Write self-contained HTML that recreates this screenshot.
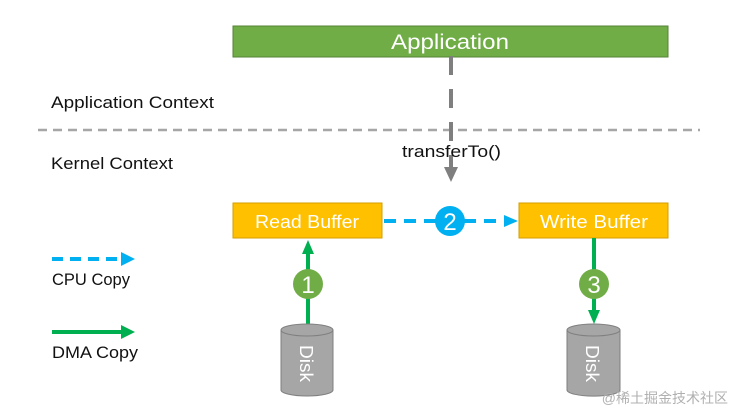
<!DOCTYPE html>
<html><head><meta charset="utf-8"><style>
html,body{margin:0;padding:0;background:#fff;width:732px;height:411px;overflow:hidden}
svg{display:block}
text{font-family:"Liberation Sans","Noto Sans CJK SC",sans-serif}
</style></head><body>
<svg width="732" height="411" viewBox="0 0 732 411" xmlns="http://www.w3.org/2000/svg">
<rect x="233" y="26" width="435" height="31" fill="#70ad47" stroke="#548235" stroke-width="1"/>
<text x="391" y="49" font-size="21" fill="#fff" textLength="118" lengthAdjust="spacingAndGlyphs">Application</text>
<line x1="38" y1="130" x2="700" y2="130" stroke="#a6a6a6" stroke-width="2.5" stroke-dasharray="9,6"/>
<line x1="451" y1="56" x2="451" y2="168" stroke="#7f7f7f" stroke-width="4" stroke-dasharray="19,14"/>
<path d="M444,167 L458,167 L451,182z" fill="#7f7f7f"/>
<text x="51" y="108" font-size="17" fill="#111" textLength="163" lengthAdjust="spacingAndGlyphs">Application Context</text>
<text x="51" y="169" font-size="17" fill="#111" textLength="122" lengthAdjust="spacingAndGlyphs">Kernel Context</text>
<text x="402" y="157" font-size="17" fill="#111" textLength="99" lengthAdjust="spacingAndGlyphs">transferTo()</text>
<rect x="233" y="203" width="149" height="35" fill="#ffc000" stroke="#d69e00"/>
<text x="255" y="228" font-size="18" fill="#fff" textLength="104" lengthAdjust="spacingAndGlyphs">Read Buffer</text>
<rect x="519" y="203" width="149" height="35" fill="#ffc000" stroke="#d69e00"/>
<text x="540" y="228" font-size="18" fill="#fff" textLength="108" lengthAdjust="spacingAndGlyphs">Write Buffer</text>
<line x1="384" y1="221" x2="506" y2="221" stroke="#00b0f0" stroke-width="4" stroke-dasharray="12,8"/>
<path d="M504,215 L518,221 L504,227z" fill="#00b0f0"/>
<circle cx="450" cy="221" r="15" fill="#00b0f0"/>
<text x="450" y="230" font-size="24" fill="#fff" text-anchor="middle">2</text>
<line x1="308" y1="325" x2="308" y2="252" stroke="#00b050" stroke-width="4"/>
<path d="M302,254 L308,240 L314,254z" fill="#00b050"/>
<circle cx="308" cy="284" r="15" fill="#70ad47"/>
<text x="308" y="293" font-size="24" fill="#fff" text-anchor="middle">1</text>
<line x1="594" y1="238" x2="594" y2="312" stroke="#00b050" stroke-width="4"/>
<path d="M588,310 L594,324 L600,310z" fill="#00b050"/>
<circle cx="594" cy="284" r="15" fill="#70ad47"/>
<text x="594" y="293" font-size="24" fill="#fff" text-anchor="middle">3</text>
<g fill="#a6a6a6" stroke="#7f7f7f" stroke-width="1">
<path d="M281,330 L281,390 A26,6 0 0 0 333,390 L333,330"/>
<ellipse cx="307" cy="330" rx="26" ry="6"/>
<path d="M567,330 L567,390 A26,6 0 0 0 620,390 L620,330"/>
<ellipse cx="593.5" cy="330" rx="26.5" ry="6"/>
</g>
<text transform="translate(300,345) rotate(90)" font-size="18" fill="#fff" textLength="37" lengthAdjust="spacingAndGlyphs">Disk</text>
<text transform="translate(586,345) rotate(90)" font-size="18" fill="#fff" textLength="37" lengthAdjust="spacingAndGlyphs">Disk</text>
<line x1="52" y1="259" x2="122" y2="259" stroke="#00b0f0" stroke-width="4" stroke-dasharray="11,7"/>
<path d="M121,252 L135,259 L121,266z" fill="#00b0f0"/>
<text x="52" y="285" font-size="17" fill="#111" textLength="78" lengthAdjust="spacingAndGlyphs">CPU Copy</text>
<line x1="52" y1="332" x2="122" y2="332" stroke="#00b050" stroke-width="4"/>
<path d="M121,325 L135,332 L121,339z" fill="#00b050"/>
<text x="52" y="358" font-size="17" fill="#111" textLength="86" lengthAdjust="spacingAndGlyphs">DMA Copy</text>
<text x="728" y="403" font-size="14" fill="#b0b0b0" text-anchor="end">@稀土掘金技术社区</text>
</svg>
</body></html>
